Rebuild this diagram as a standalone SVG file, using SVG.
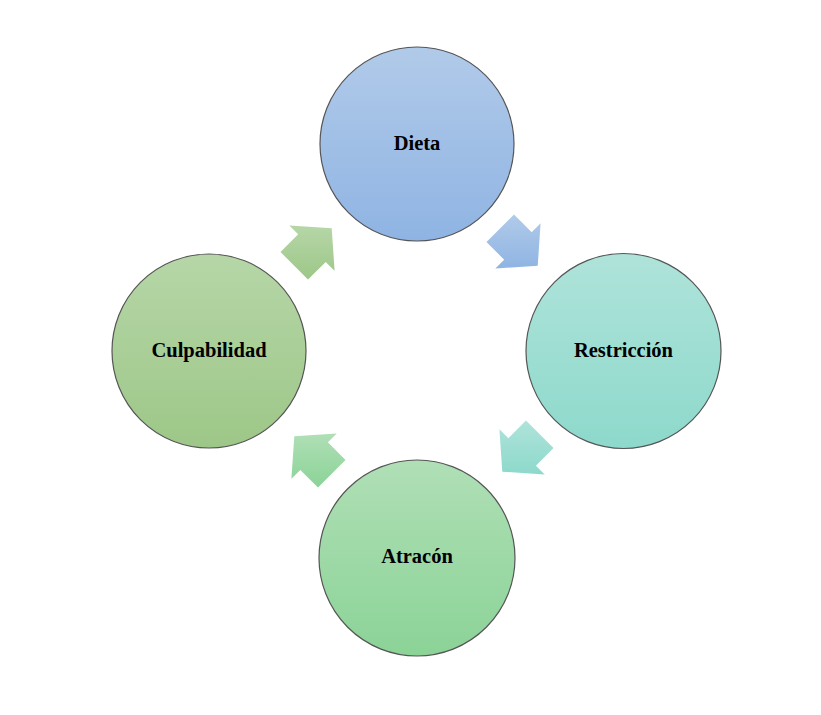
<svg xmlns="http://www.w3.org/2000/svg" width="821" height="715" viewBox="0 0 821 715">
<defs>
<linearGradient id="gBlue" x1="0" y1="0" x2="0" y2="1"><stop offset="0" stop-color="#B1CAE9"/><stop offset="1" stop-color="#8FB4E3"/></linearGradient>
<linearGradient id="gTeal" x1="0" y1="0" x2="0" y2="1"><stop offset="0" stop-color="#AFE3DA"/><stop offset="1" stop-color="#8DD9CB"/></linearGradient>
<linearGradient id="gGreen" x1="0" y1="0" x2="0" y2="1"><stop offset="0" stop-color="#B0DFB6"/><stop offset="1" stop-color="#8BD397"/></linearGradient>
<linearGradient id="gOlive" x1="0" y1="0" x2="0" y2="1"><stop offset="0" stop-color="#B6D6A7"/><stop offset="1" stop-color="#9DC788"/></linearGradient>
</defs>
<style>
.node{stroke:#555;stroke-width:1.2}
.lbl{font-family:"Liberation Serif","Times New Roman",serif;font-weight:bold;font-size:20.5px;fill:#000;text-anchor:middle}
</style>
<rect width="821" height="715" fill="#fff"/>
<g id="connectors">
<polygon points="514,214.5 531.7,232.2 540.6,223.3 537.7,265.7 495.3,268.6 504.2,259.7 486.5,242" fill="url(#gBlue)"/>
<polygon points="553.5,448 535.9,465.7 544.7,474.6 502.3,471.7 499.4,429.3 508.3,438.2 526,420.5" fill="url(#gTeal)"/>
<polygon points="318,487.5 300.3,469.9 291.4,478.7 294.3,436.3 336.7,433.4 327.9,442.3 345.5,460" fill="url(#gGreen)"/>
<polygon points="280.5,252 298.2,234.3 289.3,225.4 331.7,228.3 334.6,270.7 325.7,261.9 308,279.5" fill="url(#gOlive)"/>
</g>
<g id="node-dieta">
<circle class="node" cx="417" cy="144" r="97" fill="url(#gBlue)"/>
<text class="lbl" x="417" y="150">Dieta</text>
</g>
<g id="node-restriccion">
<circle class="node" cx="623.5" cy="351" r="97.5" fill="url(#gTeal)"/>
<text class="lbl" x="623.5" y="357">Restricción</text>
</g>
<g id="node-atracon">
<circle class="node" cx="417" cy="558" r="98" fill="url(#gGreen)"/>
<text class="lbl" x="417" y="563">Atracón</text>
</g>
<g id="node-culpabilidad">
<circle class="node" cx="209" cy="351" r="97" fill="url(#gOlive)"/>
<text class="lbl" x="209" y="357">Culpabilidad</text>
</g>
</svg>
